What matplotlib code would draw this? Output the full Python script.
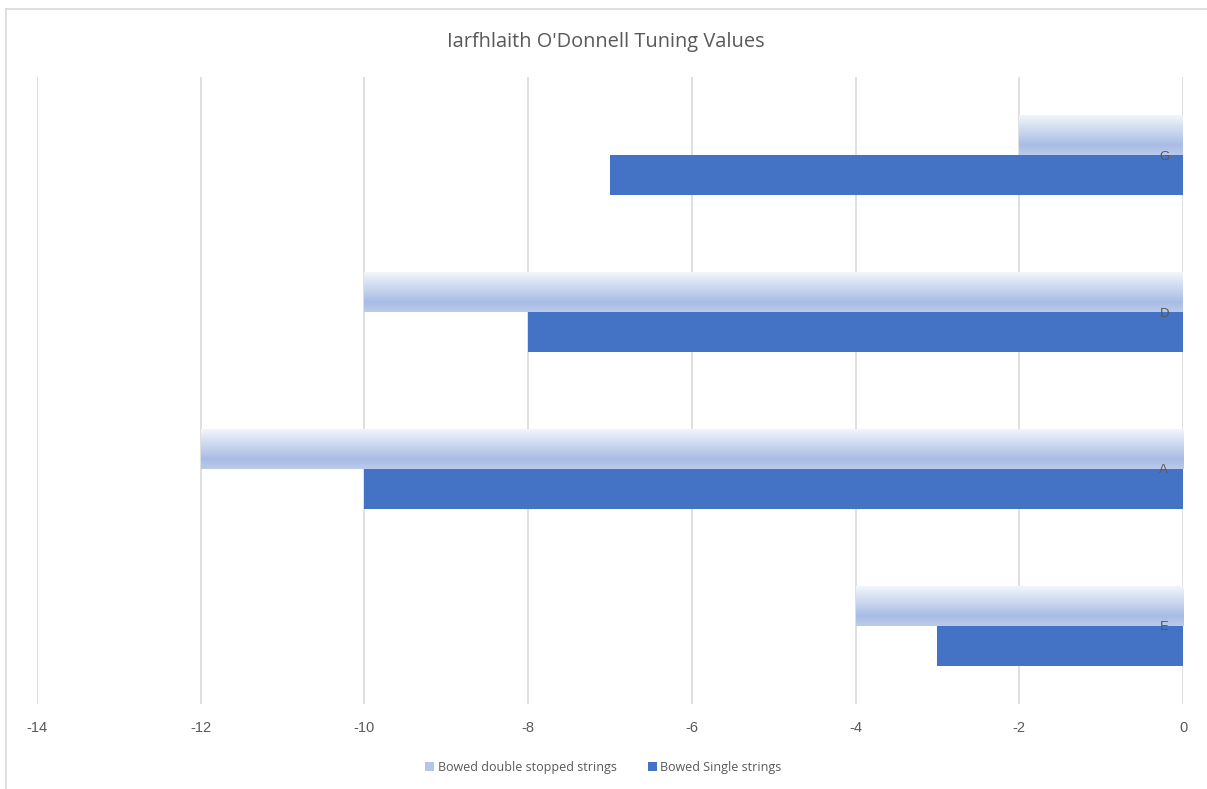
import matplotlib
matplotlib.use("Agg")
import matplotlib.pyplot as plt
import numpy as np
from matplotlib.colors import LinearSegmentedColormap, to_rgb
from matplotlib.lines import Line2D

categories = ["E", "A", "D", "G"]
double_stopped = [-4, -12, -10, -2]
single = [-3, -10, -8, -7]
series_names = ["Bowed double stopped strings", "Bowed Single strings"]
xticks = [-14, -12, -10, -8, -6, -4, -2, 0]

plt.rcParams['font.family'] = ['Open Sans', 'DejaVu Sans']
txt = "#595959"

fig = plt.figure(figsize=(12.07, 7.89), dpi=100)
ax = fig.add_axes([37/1207, 1-704/789, (1183-37)/1207, (704-77)/789])

h = 0.255
y = np.arange(len(categories))
b1 = ax.barh(y + h/2, double_stopped, height=h, color="#b4c6e7", label=series_names[0], zorder=2)
b2 = ax.barh(y - h/2, single, height=h, color="#4472c4", label=series_names[1], zorder=2)

cmap = LinearSegmentedColormap.from_list("g", [(0, to_rgb("#f3f6fb")), (0.75, to_rgb("#a8bce4")), (1.0, to_rgb("#bccbeb"))])
grad = np.linspace(0, 1, 256).reshape(-1, 1)
for p in b1.patches:
    x0, y0 = p.get_x(), p.get_y()
    w, hh = p.get_width(), p.get_height()
    im = ax.imshow(grad, cmap=cmap, extent=[x0, x0 + w, y0, y0 + hh], origin="upper",
                   aspect="auto", zorder=2.5, interpolation="bilinear")
    im.set_clip_path(p)

ax.set_xlim(-14, 0)
ax.set_ylim(-0.5, 3.5)
ax.set_xticks(xticks)
ax.set_xticklabels([str(t) for t in xticks], family=['Liberation Sans', 'DejaVu Sans'])
ax.xaxis.grid(True, color="#d9d9d9", linewidth=1.2, zorder=0)
ax.set_axisbelow(True)
for s in ax.spines.values():
    s.set_visible(False)
ax.tick_params(axis="x", length=0, pad=12, labelsize=10.5, labelcolor=txt)
ax.yaxis.set_ticks_position("right")
ax.set_yticks(y)
ax.set_yticklabels(categories, family=['Liberation Sans', 'DejaVu Sans'])
ax.tick_params(axis="y", length=0, pad=-17, labelsize=9.5, labelcolor=txt)
ax.yaxis.set_zorder(5)

fig.suptitle("Iarfhlaith O'Donnell Tuning Values", x=0.502, y=1-42/789, va="center",
             fontsize=14.4, color=txt)

leg = fig.legend(handles=[b1, b2], loc="center", bbox_to_anchor=(0.5, 1-767/789), ncol=2,
                 frameon=False, fontsize=9, labelcolor=txt, handlelength=0.7, handleheight=0.7,
                 handletextpad=0.3, columnspacing=2.5)

fig.add_artist(Line2D([6/1207, 6/1207], [0, 1-9/789], transform=fig.transFigure, color="#d9d9d9", lw=1.2))
fig.add_artist(Line2D([6/1207, 1], [1-9/789, 1-9/789], transform=fig.transFigure, color="#d9d9d9", lw=1.2))

fig.savefig("out.png", dpi=100)
